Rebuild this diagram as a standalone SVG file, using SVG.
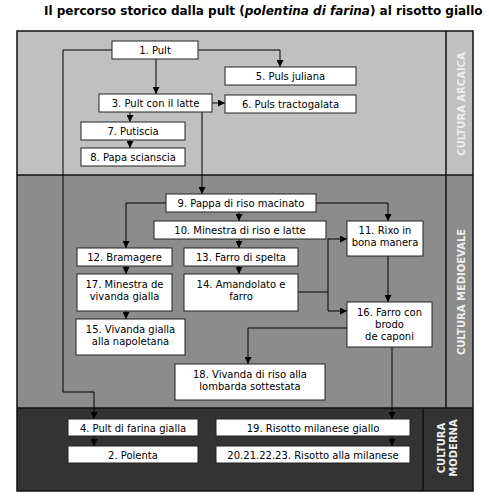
<svg xmlns="http://www.w3.org/2000/svg" width="489" height="499" viewBox="0 0 489 499">
<style>
.n rect{fill:#fff;stroke:#222;stroke-width:1}
.n text{font-family:"DejaVu Sans",Verdana,sans-serif;font-size:10px;fill:#000;text-anchor:middle}
.c path{fill:none;stroke:#000;stroke-width:1}
.lab{font-family:"DejaVu Sans",Verdana,sans-serif;font-size:10px;font-weight:bold;fill:#eeeeee;text-anchor:middle}
</style>
<defs>
<marker id="ah" viewBox="0 0 10 10" refX="10" refY="5" markerWidth="7" markerHeight="7" markerUnits="userSpaceOnUse" orient="auto">
<path d="M0,0 L10,5 L0,10 z" fill="#000"/>
</marker>
</defs>
<rect width="489" height="499" fill="#fff"/>
<text x="44" y="15" font-family="DejaVu Sans,Verdana,sans-serif" font-size="12" font-weight="bold" fill="#000">Il percorso storico dalla pult (<tspan font-style="italic">polentina di farina</tspan>) al risotto giallo</text>
<g id="sections">
<rect x="17" y="31" width="456" height="144" fill="#c0c0c0"/>
<rect x="17" y="175" width="456" height="233" fill="#8c8c8c"/>
<rect x="17" y="408" width="456" height="83" fill="#333333"/>
<rect x="17" y="31" width="456" height="460" fill="none" stroke="#111" stroke-width="1.5"/>
<path d="M17,175 H473 M17,408 H473 M446,31 V408 M423,408 V491" stroke="#111" stroke-width="1.5" fill="none"/>
<text class="lab" transform="translate(465,104) rotate(-90)">CULTURA ARCAICA</text>
<text class="lab" transform="translate(465,292) rotate(-90)">CULTURA MEDIOEVALE</text>
<text class="lab" transform="translate(445,448) rotate(-90)">CULTURA</text>
<text class="lab" transform="translate(457,448) rotate(-90)">MODERNA</text>
</g>
<g class="c" id="connectors">
<path d="M112,50 H63 V392 H94 V419" marker-end="url(#ah)"/>
<path d="M198,50 H280 V67" marker-end="url(#ah)"/>
<path d="M156,59 V94" marker-end="url(#ah)"/>
<path d="M212,103 H225" marker-end="url(#ah)"/>
<path d="M130,112 V122" marker-end="url(#ah)"/>
<path d="M130,140 V148" marker-end="url(#ah)"/>
<path d="M202,112 V194" marker-end="url(#ah)"/>
<path d="M166,203 H126 V248" marker-end="url(#ah)"/>
<path d="M239,212 V221" marker-end="url(#ah)"/>
<path d="M239,239 V248" marker-end="url(#ah)"/>
<path d="M239,266 V274" marker-end="url(#ah)"/>
<path d="M316,203 H388 V221" marker-end="url(#ah)"/>
<path d="M298,292 H328 V239 H347" marker-end="url(#ah)"/>
<path d="M328,292 V311 H347" marker-end="url(#ah)"/>
<path d="M388,256 V302" marker-end="url(#ah)"/>
<path d="M347,328 H248 V364" marker-end="url(#ah)"/>
<path d="M392,347 V419" marker-end="url(#ah)"/>
<path d="M126,266 V274" marker-end="url(#ah)"/>
<path d="M126,311 V319" marker-end="url(#ah)"/>
<path d="M94,436 V446" marker-end="url(#ah)"/>
<path d="M392,436 V446" marker-end="url(#ah)"/>
</g>
<g class="n" id="n1"><rect x="112" y="41" width="86" height="18"/><text x="155" y="54">1. Pult</text></g>
<g class="n" id="n5"><rect x="225" y="67" width="131" height="18"/><text x="290.5" y="80">5. Puls juliana</text></g>
<g class="n" id="n3"><rect x="99" y="94" width="113" height="18"/><text x="155.5" y="107">3. Pult con il latte</text></g>
<g class="n" id="n6"><rect x="225" y="95" width="131" height="18"/><text x="290.5" y="108">6. Puls tractogalata</text></g>
<g class="n" id="n7"><rect x="81" y="122" width="104" height="18"/><text x="133" y="135">7. Putiscia</text></g>
<g class="n" id="n8"><rect x="81" y="148" width="104" height="18"/><text x="133" y="161">8. Papa scianscia</text></g>
<g class="n" id="n9"><rect x="166" y="194" width="150" height="18"/><text x="241" y="207">9. Pappa di riso macinato</text></g>
<g class="n" id="n10"><rect x="154" y="221" width="172" height="18"/><text x="240" y="234">10. Minestra di riso e latte</text></g>
<g class="n" id="n11"><rect x="347" y="221" width="76" height="35"/><text x="385" y="234">11. Rixo in</text><text x="385" y="246">bona manera</text></g>
<g class="n" id="n12"><rect x="77" y="248" width="95" height="18"/><text x="124.5" y="261">12. Bramagere</text></g>
<g class="n" id="n13"><rect x="184" y="248" width="114" height="18"/><text x="241" y="261">13. Farro di spelta</text></g>
<g class="n" id="n17"><rect x="77" y="274" width="95" height="37"/><text x="124.5" y="288">17. Minestra de</text><text x="124.5" y="300">vivanda gialla</text></g>
<g class="n" id="n14"><rect x="184" y="274" width="114" height="37"/><text x="241" y="288">14. Amandolato e</text><text x="241" y="300">farro</text></g>
<g class="n" id="n15"><rect x="76" y="319" width="109" height="36"/><text x="130.5" y="333">15. Vivanda gialla</text><text x="130.5" y="345">alla napoletana</text></g>
<g class="n" id="n16"><rect x="347" y="302" width="85" height="45"/><text x="389.5" y="316">16. Farro con</text><text x="389.5" y="328">brodo</text><text x="389.5" y="340">de caponi</text></g>
<g class="n" id="n18"><rect x="175" y="364" width="150" height="36"/><text x="250" y="378">18. Vivanda di riso alla</text><text x="250" y="390">lombarda sottestata</text></g>
<g class="n" id="n4"><rect x="68" y="419" width="130" height="17"/><text x="133" y="431.5">4. Pult di farina gialla</text></g>
<g class="n" id="n2"><rect x="68" y="446" width="130" height="17"/><text x="133" y="458.5">2. Polenta</text></g>
<g class="n" id="n19"><rect x="216" y="419" width="194" height="17"/><text x="313" y="431.5">19. Risotto milanese giallo</text></g>
<g class="n" id="n20"><rect x="216" y="446" width="194" height="17"/><text x="313" y="458.5">20.21.22.23. Risotto alla milanese</text></g>
</svg>
